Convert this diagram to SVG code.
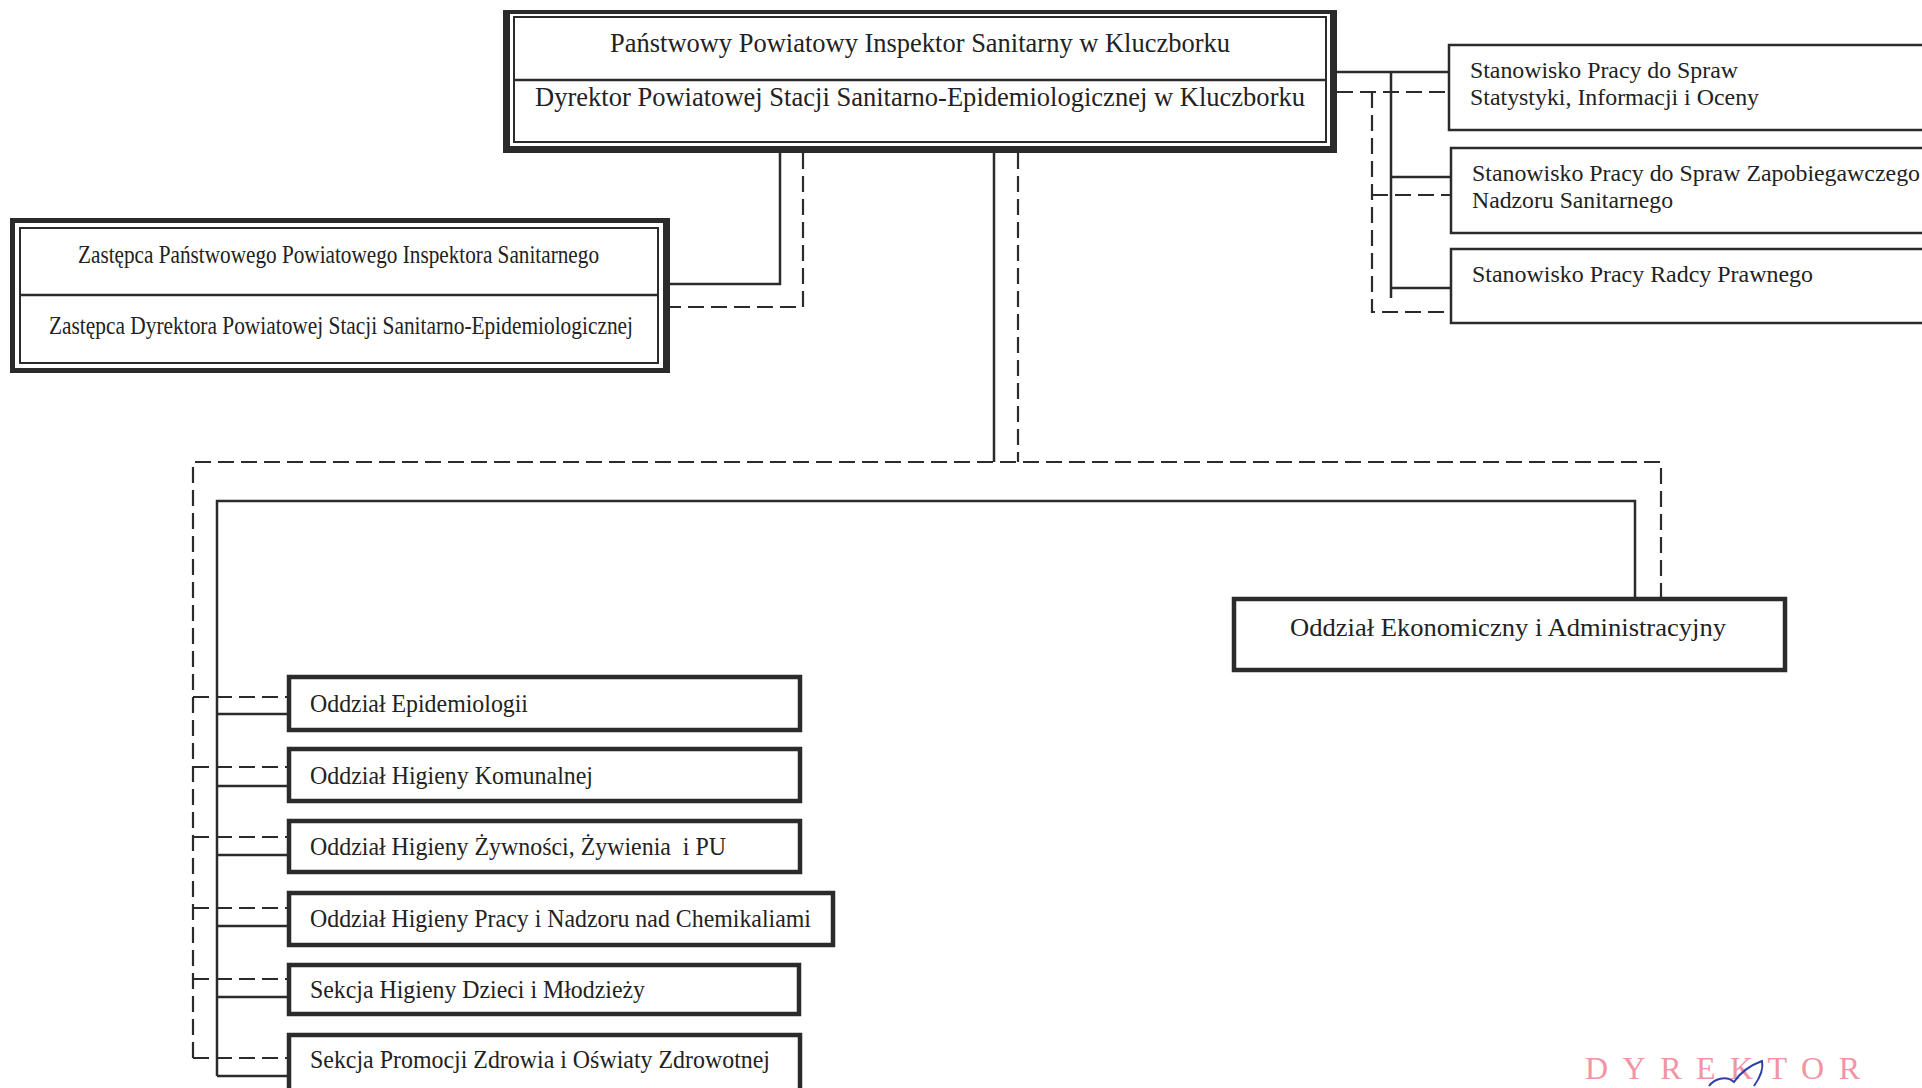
<svg xmlns="http://www.w3.org/2000/svg" width="1922" height="1088" viewBox="0 0 1922 1088">
<style>
  text { font-family: "Liberation Serif", "Times New Roman", serif; fill: #222; }
  .t28 { font-size: 28px; }
  .t26 { font-size: 26px; }
  .t25 { font-size: 25px; }
  .t23 { font-size: 23px; }
  .box { fill: #fff; stroke: #2b2b2b; stroke-width: 4.5; }
  .tbox { fill: #fff; stroke: #2b2b2b; stroke-width: 2.5; }
  .frame { fill: #2b2b2b; }
  .inner { fill: none; stroke: #2b2b2b; stroke-width: 2; }
  .solid { fill: none; stroke: #2b2b2b; stroke-width: 2.5; }
  .dash { fill: none; stroke: #2b2b2b; stroke-width: 2.2; stroke-dasharray: 16 7; }
</style>
<rect width="1922" height="1088" fill="#fff"/>

<g id="connectors">
  <path class="solid" d="M780 153 V284 H670"/>
  <path class="dash" d="M803 153 V307 H670"/>
  <path class="solid" d="M994 153 V462"/>
  <path class="dash" d="M1018 153 V462"/>
  <path class="dash" d="M193 1058 V462 H1661 V597"/>
  <path class="solid" d="M217 1076 V501 H1635 V597"/>
  <path class="solid" d="M1337 72 H1448 M1391 72 V298 M1391 177 H1451 M1391 288 H1451"/>
  <path class="dash" d="M1337 92 H1448 M1372 92 V312 H1451 M1372 195 H1451"/>
  <path class="solid" d="M217 714 H289 M217 786 H289 M217 855 H289 M217 926 H289 M217 997 H289 M217 1076 H289"/>
  <path class="dash" d="M193 697 H289 M193 767 H289 M193 837 H289 M193 908 H289 M193 979 H289 M193 1058 H289"/>
</g>

<g id="node-inspektor">
  <rect class="frame" x="503" y="10" width="834" height="143"/>
  <rect x="510" y="14" width="820" height="132" fill="#fff"/>
  <rect class="inner" x="514" y="17" width="812" height="125"/>
  <line x1="514" y1="80" x2="1326" y2="80" stroke="#2b2b2b" stroke-width="2.5"/>
  <text class="t28" x="610" y="52" textLength="620" lengthAdjust="spacingAndGlyphs">Państwowy Powiatowy Inspektor Sanitarny w Kluczborku</text>
  <text class="t28" x="535" y="106" textLength="770" lengthAdjust="spacingAndGlyphs">Dyrektor Powiatowej Stacji Sanitarno-Epidemiologicznej w Kluczborku</text>
</g>

<g id="node-zastepca">
  <rect class="frame" x="10" y="218" width="660" height="155"/>
  <rect x="15" y="223" width="648" height="145" fill="#fff"/>
  <rect class="inner" x="20" y="228" width="638" height="135"/>
  <line x1="20" y1="295" x2="658" y2="295" stroke="#2b2b2b" stroke-width="2.5"/>
  <text class="t26" x="78" y="263" textLength="521" lengthAdjust="spacingAndGlyphs">Zastępca Państwowego Powiatowego Inspektora Sanitarnego</text>
  <text class="t26" x="49" y="334" textLength="584" lengthAdjust="spacingAndGlyphs">Zastępca Dyrektora Powiatowej Stacji Sanitarno-Epidemiologicznej</text>
</g>

<g id="node-statystyka">
  <rect class="tbox" x="1449" y="45" width="500" height="85"/>
  <text class="t23" x="1470" y="78" textLength="268" lengthAdjust="spacingAndGlyphs">Stanowisko Pracy do Spraw</text>
  <text class="t23" x="1470" y="105" textLength="289" lengthAdjust="spacingAndGlyphs">Statystyki, Informacji i Oceny</text>
</g>

<g id="node-zapobiegawczy">
  <rect class="tbox" x="1451" y="148" width="500" height="85"/>
  <text class="t23" x="1472" y="181" textLength="448" lengthAdjust="spacingAndGlyphs">Stanowisko Pracy do Spraw Zapobiegawczego</text>
  <text class="t23" x="1472" y="208" textLength="201" lengthAdjust="spacingAndGlyphs">Nadzoru Sanitarnego</text>
</g>

<g id="node-radca">
  <rect class="tbox" x="1451" y="249" width="500" height="74"/>
  <text class="t23" x="1472" y="282" textLength="341" lengthAdjust="spacingAndGlyphs">Stanowisko Pracy Radcy Prawnego</text>
</g>

<g id="node-ekonomiczny">
  <rect class="box" x="1234" y="599" width="551" height="71"/>
  <text class="t25" x="1290" y="636" textLength="436" lengthAdjust="spacingAndGlyphs">Oddział Ekonomiczny i Administracyjny</text>
</g>

<g id="node-epidemiologia">
  <rect class="box" x="289" y="677" width="511" height="53"/>
  <text class="t25" x="310" y="712" textLength="218" lengthAdjust="spacingAndGlyphs">Oddział Epidemiologii</text>
</g>

<g id="node-komunalna">
  <rect class="box" x="289" y="749" width="511" height="52"/>
  <text class="t25" x="310" y="784" textLength="283" lengthAdjust="spacingAndGlyphs">Oddział Higieny Komunalnej</text>
</g>

<g id="node-zywnosc">
  <rect class="box" x="289" y="821" width="511" height="51"/>
  <text class="t25" x="310" y="855" textLength="416" lengthAdjust="spacingAndGlyphs" xml:space="preserve">Oddział Higieny Żywności, Żywienia  i PU</text>
</g>

<g id="node-praca">
  <rect class="box" x="289" y="893" width="544" height="52"/>
  <text class="t25" x="310" y="927" textLength="501" lengthAdjust="spacingAndGlyphs">Oddział Higieny Pracy i Nadzoru nad Chemikaliami</text>
</g>

<g id="node-dzieci">
  <rect class="box" x="289" y="965" width="510" height="49"/>
  <text class="t25" x="310" y="998" textLength="335" lengthAdjust="spacingAndGlyphs">Sekcja Higieny Dzieci i Młodzieży</text>
</g>

<g id="node-promocja">
  <rect class="box" x="289" y="1035" width="511" height="80"/>
  <text class="t25" x="310" y="1068" textLength="460" lengthAdjust="spacingAndGlyphs">Sekcja Promocji Zdrowia i Oświaty Zdrowotnej</text>
</g>

<g id="stamp">
  <text x="1585" y="1079" font-size="32" style="fill:#f293a6" textLength="275" lengthAdjust="spacing">DYREKTOR</text>
  <path d="M1709 1086 C1714 1079 1726 1075 1734 1082 C1740 1073 1751 1065 1762 1061 C1764 1070 1759 1079 1754 1086" fill="none" stroke="#2f3fa8" stroke-width="2"/>
</g>
</svg>
